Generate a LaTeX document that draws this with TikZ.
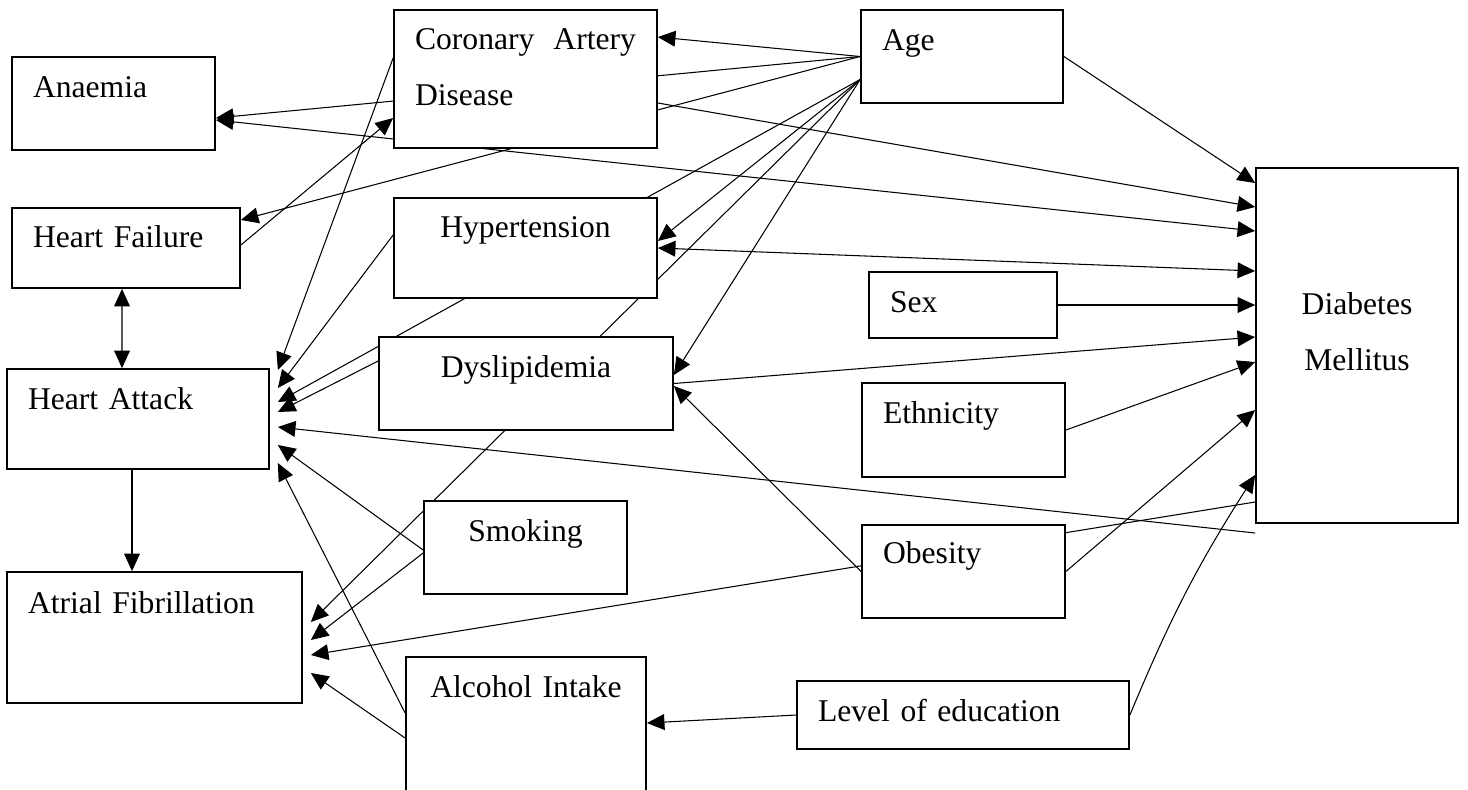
\documentclass[tikz,border=0pt]{standalone}
\usepackage{fontspec}
\setmainfont{Liberation Serif}
\usetikzlibrary{arrows.meta, backgrounds}

\tikzset{
    box/.style={draw,rectangle,fill=white,line width=1pt,inner ysep=0pt,inner xsep=0.42cm,
        font=\fontsize{18}{32}\selectfont,align=left},
    ctr/.style={align=center},
    link/.style={line width=0.6pt,-{Triangle[length=10pt,width=9pt]}},
    both/.style={line width=0.6pt,{Triangle[length=10pt,width=9pt]}-{Triangle[length=10pt,width=9pt]}},
}

\begin{document}
\begin{tikzpicture}
    \useasboundingbox (0,0) rectangle (29.36,-15.78);

    \node [box,text width=3.22cm,text height=0.8cm,text depth=1.06cm](an)at(2.27,-2.07){Anaemia};
    \node [box,text width=4.42cm,text height=0.78cm,text depth=1.98cm](cad)at(10.51,-1.58){Coronary\hfill Artery\\Disease};
    \node [box,text width=3.2cm,text height=0.8cm,text depth=1.06cm](age)at(19.24,-1.13){Age};
    \node [box,text width=3.72cm,text height=0.78cm,text depth=0.82cm](hf)at(2.52,-4.96){Heart Failure};
    \node [box,ctr,text width=4.42cm,text height=0.78cm,text depth=1.22cm](hyp)at(10.51,-4.96){Hypertension};
    \node [box,text width=2.92cm,text height=0.8cm,text depth=0.52cm](sex)at(19.26,-6.1){Sex};
    \node [box,ctr,text width=3.2cm,text height=2.92cm,text depth=4.18cm](dm)at(27.14,-6.91){Diabetes\\Mellitus};
    \node [box,text width=4.4cm,text height=0.8cm,text depth=1.2cm](ha)at(2.76,-8.38){Heart Attack};
    \node [box,ctr,text width=5.04cm,text height=0.8cm,text depth=1.06cm](dys)at(10.52,-7.67){Dyslipidemia};
    \node [box,text width=3.22cm,text height=0.8cm,text depth=1.08cm](eth)at(19.27,-8.6){Ethnicity};
    \node [box,ctr,text width=3.22cm,text height=0.8cm,text depth=1.06cm](smk)at(10.51,-10.95){Smoking};
    \node [box,text width=3.22cm,text height=0.76cm,text depth=1.1cm](ob)at(19.27,-11.43){Obesity};
    \node [box,text width=5.06cm,text height=0.82cm,text depth=1.8cm](af)at(3.09,-12.75){Atrial Fibrillation};
    \node [box,ctr,text width=3.96cm,text height=0.8cm,text depth=2.06cm](alc)at(10.52,-14.57){Alcohol Intake};
    \node [box,text width=5.8cm,text height=0.8cm,text depth=0.56cm](edu)at(19.26,-14.3){Level of education};

    \begin{pgfonlayer}{background}
    \draw [link](age.west)--([yshift=0.84cm]cad.east);
    \draw [link](age.west)--([yshift=-0.29cm]an.east);
    \draw [link](age.west)--([yshift=0.56cm]hf.east);
    \draw [link]([yshift=-0.46cm]age.west)--([yshift=0.14cm]hyp.east);
    \draw [link]([yshift=-0.46cm]age.west)--([yshift=0.17cm]dys.east);
    \draw [link]([yshift=-0.46cm]age.west)--([xshift=0.16cm,yshift=0.31cm]af.east);
    \draw [link]([yshift=-0.46cm]age.west)--([xshift=0.16cm,yshift=0.34cm]ha.east);
    \draw [link](age.east)--([yshift=3.25cm]dm.west);
    \draw [link]([yshift=-0.48cm]cad.east)--([yshift=2.77cm]dm.west);
    \draw [both]([yshift=-0.33cm]an.east)--([yshift=2.29cm]dm.west);
    \draw [both](hyp.east)--([yshift=1.49cm]dm.west);
    \draw [link](sex.east)--(sex.east-|dm.west);
    \draw [link](dys.east)--([yshift=0.17cm]dm.west);
    \draw [link](eth.east)--([yshift=-0.33cm]dm.west);
    \draw [link](ob.east)--([yshift=-1.29cm]dm.west);
    \draw [link](edu.east)to[bend left=5]([yshift=-2.59cm]dm.west);
    \draw [link](ob.west)--([yshift=-0.05cm]dys.east);
    \draw [link]([yshift=-3.13cm]dm.west)--([xshift=0.16cm,yshift=-0.35cm]af.east);
    \draw [link]([yshift=-3.75cm]dm.west)--([xshift=0.16cm,yshift=-0.16cm]ha.east);
    \draw [link]([yshift=0.45cm]dys.west)--([xshift=0.16cm,yshift=0.14cm]ha.east);
    \draw [link]([yshift=0.26cm]hyp.west)--([xshift=0.16cm,yshift=0.62cm]ha.east);
    \draw [link]([yshift=0.42cm]cad.west)--([xshift=0.16cm,yshift=0.98cm]ha.east);
    \draw [link]([yshift=-0.05cm]smk.west)--([xshift=0.16cm,yshift=-0.52cm]ha.east);
    \draw [link]([yshift=-0.11cm]smk.west)--([xshift=0.16cm,yshift=-0.05cm]af.east);
    \draw [link]([yshift=0.31cm]alc.west)--([xshift=0.16cm,yshift=-0.88cm]ha.east);
    \draw [link]([yshift=-0.19cm]alc.west)--([xshift=0.16cm,yshift=-0.71cm]af.east);
    \draw [link](edu.west)--([yshift=0.11cm]alc.east);
    \draw [both]([xshift=-0.08cm]hf.south)--([xshift=-0.32cm]ha.north);
    \draw [link]([xshift=-0.12cm]ha.south)--([xshift=-0.45cm]af.north);
    \draw [link]([yshift=0.06cm]hf.east)--([yshift=-0.78cm]cad.west);
    \end{pgfonlayer}
\end{tikzpicture}
\end{document}
